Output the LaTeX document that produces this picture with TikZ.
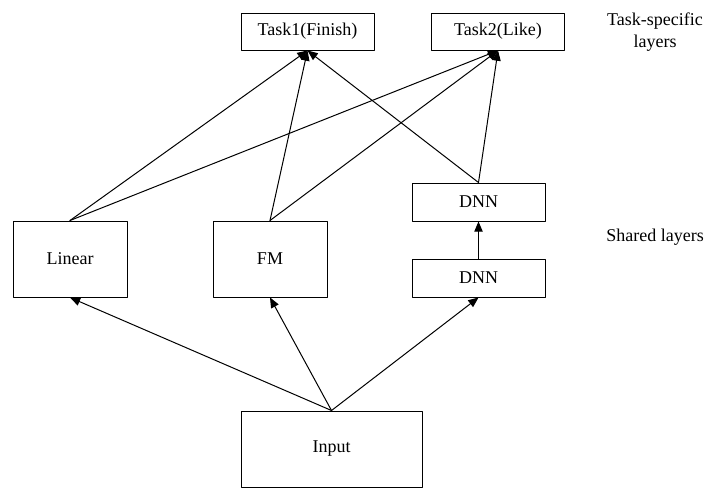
\documentclass[tikz,border=0pt]{standalone}
\usepackage{fontspec}
\setmainfont{Liberation Serif}
\newfontfamily\timesfont{Liberation Serif}
\usepackage{tikz}
\usetikzlibrary{arrows}
\usetikzlibrary{positioning}
\begin{document}
\begin{tikzpicture}[line cap=round,line join=round,>=triangle 45,x=0.75pt,y=-0.75pt,
  box/.style={draw,line width=0.75pt,inner sep=0pt,font=\timesfont\fontsize{13.5}{16}\selectfont},
  txt/.style={align=center,font=\timesfont\fontsize{13.5}{16}\selectfont},
  link/.style={->,line width=0.75pt}]
\useasboundingbox (0,0) rectangle (723,501);
\node[box,minimum width=99.75pt,minimum height=27.75pt] (task1) at (307.5,31.5) {Task1(Finish)};
\node[box,minimum width=99.75pt,minimum height=27.75pt] (task2) at (498,31.5) {Task2(Like)};
\node[box,minimum width=85.5pt,minimum height=57pt] (linear) at (70,259) {Linear};
\node[box,minimum width=85.5pt,minimum height=57pt] (fm) at (270,259) {FM};
\node[box,minimum width=99.75pt,minimum height=28.5pt] (dnn2) at (478.5,202) {DNN};
\node[box,minimum width=99.75pt,minimum height=28.5pt] (dnn1) at (478.5,278) {DNN};
\node[box,minimum width=135.75pt,minimum height=57pt] (input) at (331.5,449) {Input};
\node[txt] (tasklbl) at (655,32) {Task-specific\\layers};
\node[txt] (sharedlbl) at (655,237) {Shared layers};
\draw[link] (input.north) -- (linear.south);
\draw[link] (input.north) -- (fm.south);
\draw[link] (input.north) -- (dnn1.south);
\draw[link] (dnn1.north) -- (dnn2.south);
\draw[link] (linear.north) -- (task1.south);
\draw[link] (linear.north) -- (task2.south);
\draw[link] (fm.north) -- (task1.south);
\draw[link] (fm.north) -- (task2.south);
\draw[link] (dnn2.north) -- (task1.south);
\draw[link] (dnn2.north) -- (task2.south);
\end{tikzpicture}
\end{document}
